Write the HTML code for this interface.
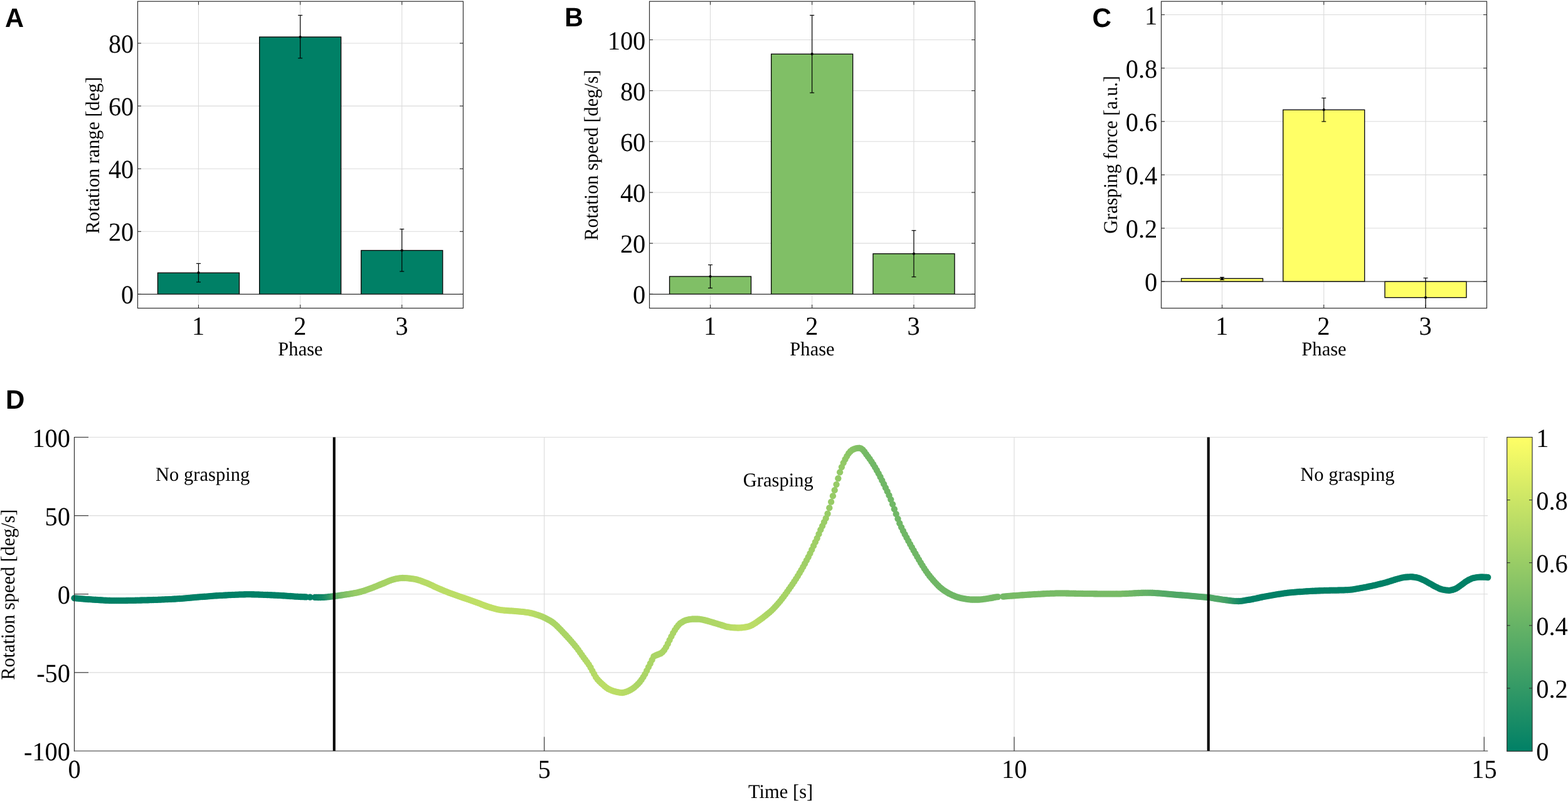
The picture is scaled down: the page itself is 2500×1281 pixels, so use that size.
<!DOCTYPE html>
<html lang="en"><head><meta charset="utf-8"><title>Figure</title>
<style>html,body{margin:0;padding:0;background:#fff;overflow:hidden}svg{display:block}text{fill:#000;text-rendering:geometricPrecision}</style></head><body>
<svg width="2500" height="1281" viewBox="0 0 2500 1281">
<rect width="2500" height="1281" fill="#fff"/>
<line x1="219.5" y1="369.3" x2="738.5" y2="369.3" stroke="#dbdbdb" stroke-width="1.1"/>
<line x1="219.5" y1="269.2" x2="738.5" y2="269.2" stroke="#dbdbdb" stroke-width="1.1"/>
<line x1="219.5" y1="169.1" x2="738.5" y2="169.1" stroke="#dbdbdb" stroke-width="1.1"/>
<line x1="219.5" y1="69" x2="738.5" y2="69" stroke="#dbdbdb" stroke-width="1.1"/>
<line x1="316.5" y1="2.2" x2="316.5" y2="491.6" stroke="#dbdbdb" stroke-width="1.1"/>
<line x1="478.7" y1="2.2" x2="478.7" y2="491.6" stroke="#dbdbdb" stroke-width="1.1"/>
<line x1="640.8" y1="2.2" x2="640.8" y2="491.6" stroke="#dbdbdb" stroke-width="1.1"/>
<rect x="251.5" y="435.22" width="130" height="34.18" fill="#008066" stroke="#000" stroke-width="1.3"/>
<rect x="413.7" y="58.99" width="130" height="410.41" fill="#008066" stroke="#000" stroke-width="1.3"/>
<rect x="575.8" y="399.48" width="130" height="69.92" fill="#008066" stroke="#000" stroke-width="1.3"/>
<line x1="219.5" y1="469.4" x2="738.5" y2="469.4" stroke="#2e2e2e" stroke-width="1.3"/>
<line x1="316.5" y1="420.4" x2="316.5" y2="450" stroke="#000" stroke-width="1.2"/>
<line x1="313" y1="420.4" x2="320" y2="420.4" stroke="#000" stroke-width="1.2"/>
<line x1="313" y1="450" x2="320" y2="450" stroke="#000" stroke-width="1.2"/>
<circle cx="316.5" cy="435.22" r="2.1" fill="#000"/>
<line x1="478.7" y1="24.4" x2="478.7" y2="92.8" stroke="#000" stroke-width="1.2"/>
<line x1="475.2" y1="24.4" x2="482.2" y2="24.4" stroke="#000" stroke-width="1.2"/>
<line x1="475.2" y1="92.8" x2="482.2" y2="92.8" stroke="#000" stroke-width="1.2"/>
<circle cx="478.7" cy="58.99" r="2.1" fill="#000"/>
<line x1="640.8" y1="365.5" x2="640.8" y2="433" stroke="#000" stroke-width="1.2"/>
<line x1="637.3" y1="365.5" x2="644.3" y2="365.5" stroke="#000" stroke-width="1.2"/>
<line x1="637.3" y1="433" x2="644.3" y2="433" stroke="#000" stroke-width="1.2"/>
<circle cx="640.8" cy="399.48" r="2.1" fill="#000"/>
<rect x="219.5" y="2.2" width="519" height="489.4" fill="none" stroke="#2e2e2e" stroke-width="1.2"/>
<line x1="219.5" y1="469.4" x2="225" y2="469.4" stroke="#2e2e2e" stroke-width="1.1"/>
<line x1="733" y1="469.4" x2="738.5" y2="469.4" stroke="#2e2e2e" stroke-width="1.1"/>
<text transform="translate(213.3 484.4) scale(0.97 1)" font-family="'Liberation Serif','Times New Roman',serif" font-size="41.67" text-anchor="end">0</text>
<line x1="219.5" y1="369.3" x2="225" y2="369.3" stroke="#2e2e2e" stroke-width="1.1"/>
<line x1="733" y1="369.3" x2="738.5" y2="369.3" stroke="#2e2e2e" stroke-width="1.1"/>
<text transform="translate(213.3 384.3) scale(0.97 1)" font-family="'Liberation Serif','Times New Roman',serif" font-size="41.67" text-anchor="end">20</text>
<line x1="219.5" y1="269.2" x2="225" y2="269.2" stroke="#2e2e2e" stroke-width="1.1"/>
<line x1="733" y1="269.2" x2="738.5" y2="269.2" stroke="#2e2e2e" stroke-width="1.1"/>
<text transform="translate(213.3 284.2) scale(0.97 1)" font-family="'Liberation Serif','Times New Roman',serif" font-size="41.67" text-anchor="end">40</text>
<line x1="219.5" y1="169.1" x2="225" y2="169.1" stroke="#2e2e2e" stroke-width="1.1"/>
<line x1="733" y1="169.1" x2="738.5" y2="169.1" stroke="#2e2e2e" stroke-width="1.1"/>
<text transform="translate(213.3 184.1) scale(0.97 1)" font-family="'Liberation Serif','Times New Roman',serif" font-size="41.67" text-anchor="end">60</text>
<line x1="219.5" y1="69" x2="225" y2="69" stroke="#2e2e2e" stroke-width="1.1"/>
<line x1="733" y1="69" x2="738.5" y2="69" stroke="#2e2e2e" stroke-width="1.1"/>
<text transform="translate(213.3 84) scale(0.97 1)" font-family="'Liberation Serif','Times New Roman',serif" font-size="41.67" text-anchor="end">80</text>
<line x1="316.5" y1="491.6" x2="316.5" y2="486.1" stroke="#2e2e2e" stroke-width="1.1"/>
<line x1="316.5" y1="2.2" x2="316.5" y2="7.7" stroke="#2e2e2e" stroke-width="1.1"/>
<text transform="translate(316.2 534) scale(0.97 1)" font-family="'Liberation Serif','Times New Roman',serif" font-size="41.67" text-anchor="middle">1</text>
<line x1="478.7" y1="491.6" x2="478.7" y2="486.1" stroke="#2e2e2e" stroke-width="1.1"/>
<line x1="478.7" y1="2.2" x2="478.7" y2="7.7" stroke="#2e2e2e" stroke-width="1.1"/>
<text transform="translate(478.4 534) scale(0.97 1)" font-family="'Liberation Serif','Times New Roman',serif" font-size="41.67" text-anchor="middle">2</text>
<line x1="640.8" y1="491.6" x2="640.8" y2="486.1" stroke="#2e2e2e" stroke-width="1.1"/>
<line x1="640.8" y1="2.2" x2="640.8" y2="7.7" stroke="#2e2e2e" stroke-width="1.1"/>
<text transform="translate(640.5 534) scale(0.97 1)" font-family="'Liberation Serif','Times New Roman',serif" font-size="41.67" text-anchor="middle">3</text>
<text transform="translate(479 567) scale(0.978 1)" font-family="'Liberation Serif','Times New Roman',serif" font-size="31.25" text-anchor="middle">Phase</text>
<text transform="translate(158.2 247.9) rotate(-90) scale(0.968 1)" font-family="'Liberation Serif','Times New Roman',serif" font-size="31.25" text-anchor="middle">Rotation range [deg]</text>
<text transform="translate(7.9 42.5) scale(0.975 1)" font-family="'Liberation Sans',Arial,sans-serif" font-size="42.7" font-weight="bold">A</text>
<line x1="1035.5" y1="388.14" x2="1554.5" y2="388.14" stroke="#dbdbdb" stroke-width="1.1"/>
<line x1="1035.5" y1="306.98" x2="1554.5" y2="306.98" stroke="#dbdbdb" stroke-width="1.1"/>
<line x1="1035.5" y1="225.82" x2="1554.5" y2="225.82" stroke="#dbdbdb" stroke-width="1.1"/>
<line x1="1035.5" y1="144.66" x2="1554.5" y2="144.66" stroke="#dbdbdb" stroke-width="1.1"/>
<line x1="1035.5" y1="63.5" x2="1554.5" y2="63.5" stroke="#dbdbdb" stroke-width="1.1"/>
<line x1="1132.5" y1="2.2" x2="1132.5" y2="491.6" stroke="#dbdbdb" stroke-width="1.1"/>
<line x1="1294.7" y1="2.2" x2="1294.7" y2="491.6" stroke="#dbdbdb" stroke-width="1.1"/>
<line x1="1457" y1="2.2" x2="1457" y2="491.6" stroke="#dbdbdb" stroke-width="1.1"/>
<rect x="1067.5" y="441.02" width="130" height="28.28" fill="#80bf66" stroke="#000" stroke-width="1.3"/>
<rect x="1229.7" y="86.22" width="130" height="383.08" fill="#80bf66" stroke="#000" stroke-width="1.3"/>
<rect x="1392" y="404.78" width="130" height="64.52" fill="#80bf66" stroke="#000" stroke-width="1.3"/>
<line x1="1035.5" y1="469.3" x2="1554.5" y2="469.3" stroke="#2e2e2e" stroke-width="1.3"/>
<line x1="1132.5" y1="422.5" x2="1132.5" y2="459.5" stroke="#000" stroke-width="1.2"/>
<line x1="1129" y1="422.5" x2="1136" y2="422.5" stroke="#000" stroke-width="1.2"/>
<line x1="1129" y1="459.5" x2="1136" y2="459.5" stroke="#000" stroke-width="1.2"/>
<circle cx="1132.5" cy="441.02" r="2.1" fill="#000"/>
<line x1="1294.7" y1="24.4" x2="1294.7" y2="148" stroke="#000" stroke-width="1.2"/>
<line x1="1291.2" y1="24.4" x2="1298.2" y2="24.4" stroke="#000" stroke-width="1.2"/>
<line x1="1291.2" y1="148" x2="1298.2" y2="148" stroke="#000" stroke-width="1.2"/>
<circle cx="1294.7" cy="86.22" r="2.1" fill="#000"/>
<line x1="1457" y1="367.7" x2="1457" y2="441.7" stroke="#000" stroke-width="1.2"/>
<line x1="1453.5" y1="367.7" x2="1460.5" y2="367.7" stroke="#000" stroke-width="1.2"/>
<line x1="1453.5" y1="441.7" x2="1460.5" y2="441.7" stroke="#000" stroke-width="1.2"/>
<circle cx="1457" cy="404.78" r="2.1" fill="#000"/>
<rect x="1035.5" y="2.2" width="519" height="489.4" fill="none" stroke="#2e2e2e" stroke-width="1.2"/>
<line x1="1035.5" y1="469.3" x2="1041" y2="469.3" stroke="#2e2e2e" stroke-width="1.1"/>
<line x1="1549" y1="469.3" x2="1554.5" y2="469.3" stroke="#2e2e2e" stroke-width="1.1"/>
<text transform="translate(1029.3 484.3) scale(0.97 1)" font-family="'Liberation Serif','Times New Roman',serif" font-size="41.67" text-anchor="end">0</text>
<line x1="1035.5" y1="388.14" x2="1041" y2="388.14" stroke="#2e2e2e" stroke-width="1.1"/>
<line x1="1549" y1="388.14" x2="1554.5" y2="388.14" stroke="#2e2e2e" stroke-width="1.1"/>
<text transform="translate(1029.3 403.14) scale(0.97 1)" font-family="'Liberation Serif','Times New Roman',serif" font-size="41.67" text-anchor="end">20</text>
<line x1="1035.5" y1="306.98" x2="1041" y2="306.98" stroke="#2e2e2e" stroke-width="1.1"/>
<line x1="1549" y1="306.98" x2="1554.5" y2="306.98" stroke="#2e2e2e" stroke-width="1.1"/>
<text transform="translate(1029.3 321.98) scale(0.97 1)" font-family="'Liberation Serif','Times New Roman',serif" font-size="41.67" text-anchor="end">40</text>
<line x1="1035.5" y1="225.82" x2="1041" y2="225.82" stroke="#2e2e2e" stroke-width="1.1"/>
<line x1="1549" y1="225.82" x2="1554.5" y2="225.82" stroke="#2e2e2e" stroke-width="1.1"/>
<text transform="translate(1029.3 240.82) scale(0.97 1)" font-family="'Liberation Serif','Times New Roman',serif" font-size="41.67" text-anchor="end">60</text>
<line x1="1035.5" y1="144.66" x2="1041" y2="144.66" stroke="#2e2e2e" stroke-width="1.1"/>
<line x1="1549" y1="144.66" x2="1554.5" y2="144.66" stroke="#2e2e2e" stroke-width="1.1"/>
<text transform="translate(1029.3 159.66) scale(0.97 1)" font-family="'Liberation Serif','Times New Roman',serif" font-size="41.67" text-anchor="end">80</text>
<line x1="1035.5" y1="63.5" x2="1041" y2="63.5" stroke="#2e2e2e" stroke-width="1.1"/>
<line x1="1549" y1="63.5" x2="1554.5" y2="63.5" stroke="#2e2e2e" stroke-width="1.1"/>
<text transform="translate(1029.3 78.5) scale(0.97 1)" font-family="'Liberation Serif','Times New Roman',serif" font-size="41.67" text-anchor="end">100</text>
<line x1="1132.5" y1="491.6" x2="1132.5" y2="486.1" stroke="#2e2e2e" stroke-width="1.1"/>
<line x1="1132.5" y1="2.2" x2="1132.5" y2="7.7" stroke="#2e2e2e" stroke-width="1.1"/>
<text transform="translate(1132.2 534) scale(0.97 1)" font-family="'Liberation Serif','Times New Roman',serif" font-size="41.67" text-anchor="middle">1</text>
<line x1="1294.7" y1="491.6" x2="1294.7" y2="486.1" stroke="#2e2e2e" stroke-width="1.1"/>
<line x1="1294.7" y1="2.2" x2="1294.7" y2="7.7" stroke="#2e2e2e" stroke-width="1.1"/>
<text transform="translate(1294.4 534) scale(0.97 1)" font-family="'Liberation Serif','Times New Roman',serif" font-size="41.67" text-anchor="middle">2</text>
<line x1="1457" y1="491.6" x2="1457" y2="486.1" stroke="#2e2e2e" stroke-width="1.1"/>
<line x1="1457" y1="2.2" x2="1457" y2="7.7" stroke="#2e2e2e" stroke-width="1.1"/>
<text transform="translate(1456.7 534) scale(0.97 1)" font-family="'Liberation Serif','Times New Roman',serif" font-size="41.67" text-anchor="middle">3</text>
<text transform="translate(1295 567) scale(0.978 1)" font-family="'Liberation Serif','Times New Roman',serif" font-size="31.25" text-anchor="middle">Phase</text>
<text transform="translate(953.3 247.6) rotate(-90) scale(0.968 1)" font-family="'Liberation Serif','Times New Roman',serif" font-size="31.25" text-anchor="middle">Rotation speed [deg/s]</text>
<text transform="translate(900.2 42.4) scale(0.96 1)" font-family="'Liberation Sans',Arial,sans-serif" font-size="42.7" font-weight="bold">B</text>
<line x1="1851.5" y1="364.06" x2="2370.5" y2="364.06" stroke="#dbdbdb" stroke-width="1.1"/>
<line x1="1851.5" y1="278.92" x2="2370.5" y2="278.92" stroke="#dbdbdb" stroke-width="1.1"/>
<line x1="1851.5" y1="193.78" x2="2370.5" y2="193.78" stroke="#dbdbdb" stroke-width="1.1"/>
<line x1="1851.5" y1="108.64" x2="2370.5" y2="108.64" stroke="#dbdbdb" stroke-width="1.1"/>
<line x1="1851.5" y1="23.5" x2="2370.5" y2="23.5" stroke="#dbdbdb" stroke-width="1.1"/>
<line x1="1948.5" y1="2.2" x2="1948.5" y2="491.6" stroke="#dbdbdb" stroke-width="1.1"/>
<line x1="2110.7" y1="2.2" x2="2110.7" y2="491.6" stroke="#dbdbdb" stroke-width="1.1"/>
<line x1="2273" y1="2.2" x2="2273" y2="491.6" stroke="#dbdbdb" stroke-width="1.1"/>
<rect x="1883.5" y="444.3" width="130" height="4.9" fill="#ffff66" stroke="#000" stroke-width="1.3"/>
<rect x="2045.7" y="175.22" width="130" height="273.98" fill="#ffff66" stroke="#000" stroke-width="1.3"/>
<rect x="2208" y="449.2" width="130" height="25.5" fill="#ffff66" stroke="#000" stroke-width="1.3"/>
<line x1="1851.5" y1="449.2" x2="2370.5" y2="449.2" stroke="#2e2e2e" stroke-width="1.3"/>
<line x1="1948.5" y1="442.4" x2="1948.5" y2="446.4" stroke="#000" stroke-width="1.2"/>
<line x1="1945" y1="442.4" x2="1952" y2="442.4" stroke="#000" stroke-width="1.2"/>
<line x1="1945" y1="446.4" x2="1952" y2="446.4" stroke="#000" stroke-width="1.2"/>
<circle cx="1948.5" cy="444.3" r="2.1" fill="#000"/>
<line x1="2110.7" y1="156.4" x2="2110.7" y2="193.9" stroke="#000" stroke-width="1.2"/>
<line x1="2107.2" y1="156.4" x2="2114.2" y2="156.4" stroke="#000" stroke-width="1.2"/>
<line x1="2107.2" y1="193.9" x2="2114.2" y2="193.9" stroke="#000" stroke-width="1.2"/>
<circle cx="2110.7" cy="175.22" r="2.1" fill="#000"/>
<line x1="2273" y1="443.5" x2="2273" y2="491.6" stroke="#000" stroke-width="1.2"/>
<line x1="2269.5" y1="443.5" x2="2276.5" y2="443.5" stroke="#000" stroke-width="1.2"/>
<circle cx="2273" cy="474.7" r="2.1" fill="#000"/>
<rect x="1851.5" y="2.2" width="519" height="489.4" fill="none" stroke="#2e2e2e" stroke-width="1.2"/>
<line x1="1851.5" y1="449.2" x2="1857" y2="449.2" stroke="#2e2e2e" stroke-width="1.1"/>
<line x1="2365" y1="449.2" x2="2370.5" y2="449.2" stroke="#2e2e2e" stroke-width="1.1"/>
<text transform="translate(1845.3 464.2) scale(0.97 1)" font-family="'Liberation Serif','Times New Roman',serif" font-size="41.67" text-anchor="end">0</text>
<line x1="1851.5" y1="364.06" x2="1857" y2="364.06" stroke="#2e2e2e" stroke-width="1.1"/>
<line x1="2365" y1="364.06" x2="2370.5" y2="364.06" stroke="#2e2e2e" stroke-width="1.1"/>
<text transform="translate(1845.3 379.06) scale(0.97 1)" font-family="'Liberation Serif','Times New Roman',serif" font-size="41.67" text-anchor="end">0.2</text>
<line x1="1851.5" y1="278.92" x2="1857" y2="278.92" stroke="#2e2e2e" stroke-width="1.1"/>
<line x1="2365" y1="278.92" x2="2370.5" y2="278.92" stroke="#2e2e2e" stroke-width="1.1"/>
<text transform="translate(1845.3 293.92) scale(0.97 1)" font-family="'Liberation Serif','Times New Roman',serif" font-size="41.67" text-anchor="end">0.4</text>
<line x1="1851.5" y1="193.78" x2="1857" y2="193.78" stroke="#2e2e2e" stroke-width="1.1"/>
<line x1="2365" y1="193.78" x2="2370.5" y2="193.78" stroke="#2e2e2e" stroke-width="1.1"/>
<text transform="translate(1845.3 208.78) scale(0.97 1)" font-family="'Liberation Serif','Times New Roman',serif" font-size="41.67" text-anchor="end">0.6</text>
<line x1="1851.5" y1="108.64" x2="1857" y2="108.64" stroke="#2e2e2e" stroke-width="1.1"/>
<line x1="2365" y1="108.64" x2="2370.5" y2="108.64" stroke="#2e2e2e" stroke-width="1.1"/>
<text transform="translate(1845.3 123.64) scale(0.97 1)" font-family="'Liberation Serif','Times New Roman',serif" font-size="41.67" text-anchor="end">0.8</text>
<line x1="1851.5" y1="23.5" x2="1857" y2="23.5" stroke="#2e2e2e" stroke-width="1.1"/>
<line x1="2365" y1="23.5" x2="2370.5" y2="23.5" stroke="#2e2e2e" stroke-width="1.1"/>
<text transform="translate(1845.3 38.5) scale(0.97 1)" font-family="'Liberation Serif','Times New Roman',serif" font-size="41.67" text-anchor="end">1</text>
<line x1="1948.5" y1="491.6" x2="1948.5" y2="486.1" stroke="#2e2e2e" stroke-width="1.1"/>
<line x1="1948.5" y1="2.2" x2="1948.5" y2="7.7" stroke="#2e2e2e" stroke-width="1.1"/>
<text transform="translate(1948.2 534) scale(0.97 1)" font-family="'Liberation Serif','Times New Roman',serif" font-size="41.67" text-anchor="middle">1</text>
<line x1="2110.7" y1="491.6" x2="2110.7" y2="486.1" stroke="#2e2e2e" stroke-width="1.1"/>
<line x1="2110.7" y1="2.2" x2="2110.7" y2="7.7" stroke="#2e2e2e" stroke-width="1.1"/>
<text transform="translate(2110.4 534) scale(0.97 1)" font-family="'Liberation Serif','Times New Roman',serif" font-size="41.67" text-anchor="middle">2</text>
<line x1="2273" y1="491.6" x2="2273" y2="486.1" stroke="#2e2e2e" stroke-width="1.1"/>
<line x1="2273" y1="2.2" x2="2273" y2="7.7" stroke="#2e2e2e" stroke-width="1.1"/>
<text transform="translate(2272.7 534) scale(0.97 1)" font-family="'Liberation Serif','Times New Roman',serif" font-size="41.67" text-anchor="middle">3</text>
<text transform="translate(2111 567) scale(0.978 1)" font-family="'Liberation Serif','Times New Roman',serif" font-size="31.25" text-anchor="middle">Phase</text>
<text transform="translate(1780.6 246.8) rotate(-90) scale(0.968 1)" font-family="'Liberation Serif','Times New Roman',serif" font-size="31.25" text-anchor="middle">Grasping force [a.u.]</text>
<text transform="translate(1741.4 42.7) scale(0.99 1)" font-family="'Liberation Sans',Arial,sans-serif" font-size="42.7" font-weight="bold">C</text>
<line x1="118.5" y1="697.5" x2="2372" y2="697.5" stroke="#dbdbdb" stroke-width="1.1"/>
<line x1="118.5" y1="822.62" x2="2372" y2="822.62" stroke="#dbdbdb" stroke-width="1.1"/>
<line x1="118.5" y1="947.75" x2="2372" y2="947.75" stroke="#dbdbdb" stroke-width="1.1"/>
<line x1="118.5" y1="1072.88" x2="2372" y2="1072.88" stroke="#dbdbdb" stroke-width="1.1"/>
<line x1="867.75" y1="697.5" x2="867.75" y2="1198" stroke="#dbdbdb" stroke-width="1.1"/>
<line x1="1617" y1="697.5" x2="1617" y2="1198" stroke="#dbdbdb" stroke-width="1.1"/>
<line x1="2366.25" y1="697.5" x2="2366.25" y2="1198" stroke="#dbdbdb" stroke-width="1.1"/>
<g fill="#008066">
<circle cx="118.5" cy="954.2" r="5.15"/>
<circle cx="121.3" cy="954.45" r="5.15"/>
<circle cx="124.1" cy="954.69" r="5.15"/>
<circle cx="126.9" cy="954.93" r="5.15"/>
<circle cx="129.7" cy="955.16" r="5.15"/>
<circle cx="132.5" cy="955.39" r="5.15"/>
<circle cx="135.3" cy="955.61" r="5.15"/>
<circle cx="138.1" cy="955.81" r="5.15"/>
<circle cx="140.9" cy="956.01" r="5.15"/>
<circle cx="143.7" cy="956.21" r="5.15"/>
<circle cx="146.5" cy="956.39" r="5.15"/>
<circle cx="149.3" cy="956.56" r="5.15"/>
<circle cx="152.1" cy="956.73" r="5.15"/>
<circle cx="154.9" cy="956.9" r="5.15"/>
<circle cx="157.69" cy="957.08" r="5.15"/>
<circle cx="160.49" cy="957.26" r="5.15"/>
<circle cx="163.29" cy="957.43" r="5.15"/>
<circle cx="166.09" cy="957.6" r="5.15"/>
<circle cx="168.89" cy="957.75" r="5.15"/>
<circle cx="171.69" cy="957.89" r="5.15"/>
<circle cx="174.49" cy="958.01" r="5.15"/>
<circle cx="177.29" cy="958.1" r="5.15"/>
<circle cx="180.09" cy="958.16" r="5.15"/>
<circle cx="182.89" cy="958.2" r="5.15"/>
<circle cx="185.69" cy="958.2" r="5.15"/>
<circle cx="188.49" cy="958.19" r="5.15"/>
<circle cx="191.29" cy="958.17" r="5.15"/>
<circle cx="194.09" cy="958.14" r="5.15"/>
<circle cx="196.89" cy="958.11" r="5.15"/>
<circle cx="199.69" cy="958.07" r="5.15"/>
<circle cx="202.49" cy="958.02" r="5.15"/>
<circle cx="205.29" cy="957.97" r="5.15"/>
<circle cx="208.09" cy="957.92" r="5.15"/>
<circle cx="210.89" cy="957.86" r="5.15"/>
<circle cx="213.69" cy="957.79" r="5.15"/>
<circle cx="216.49" cy="957.73" r="5.15"/>
<circle cx="219.29" cy="957.66" r="5.15"/>
<circle cx="222.09" cy="957.59" r="5.15"/>
<circle cx="224.89" cy="957.52" r="5.15"/>
<circle cx="227.69" cy="957.46" r="5.15"/>
<circle cx="230.49" cy="957.39" r="5.15"/>
<circle cx="233.28" cy="957.32" r="5.15"/>
<circle cx="236.08" cy="957.24" r="5.15"/>
<circle cx="238.88" cy="957.16" r="5.15"/>
<circle cx="241.68" cy="957.07" r="5.15"/>
<circle cx="244.48" cy="956.98" r="5.15"/>
<circle cx="247.28" cy="956.88" r="5.15"/>
<circle cx="250.08" cy="956.78" r="5.15"/>
<circle cx="252.88" cy="956.67" r="5.15"/>
<circle cx="255.68" cy="956.56" r="5.15"/>
<circle cx="258.48" cy="956.44" r="5.15"/>
<circle cx="261.28" cy="956.32" r="5.15"/>
<circle cx="264.08" cy="956.2" r="5.15"/>
<circle cx="266.88" cy="956.07" r="5.15"/>
<circle cx="269.68" cy="955.93" r="5.15"/>
<circle cx="272.48" cy="955.79" r="5.15"/>
<circle cx="275.28" cy="955.65" r="5.15"/>
<circle cx="278.08" cy="955.5" r="5.15"/>
<circle cx="280.88" cy="955.35" r="5.15"/>
<circle cx="283.68" cy="955.18" r="5.15"/>
<circle cx="286.48" cy="955" r="5.15"/>
<circle cx="289.28" cy="954.79" r="5.15"/>
<circle cx="292.08" cy="954.58" r="5.15"/>
<circle cx="294.88" cy="954.35" r="5.15"/>
<circle cx="297.68" cy="954.11" r="5.15"/>
<circle cx="300.48" cy="953.87" r="5.15"/>
<circle cx="303.28" cy="953.62" r="5.15"/>
<circle cx="306.08" cy="953.37" r="5.15"/>
<circle cx="308.87" cy="953.13" r="5.15"/>
<circle cx="311.67" cy="952.88" r="5.15"/>
<circle cx="314.47" cy="952.64" r="5.15"/>
<circle cx="317.27" cy="952.41" r="5.15"/>
<circle cx="320.07" cy="952.19" r="5.15"/>
<circle cx="322.87" cy="951.98" r="5.15"/>
<circle cx="325.67" cy="951.75" r="5.15"/>
<circle cx="328.47" cy="951.53" r="5.15"/>
<circle cx="331.27" cy="951.3" r="5.15"/>
<circle cx="334.07" cy="951.08" r="5.15"/>
<circle cx="336.87" cy="950.87" r="5.15"/>
<circle cx="339.67" cy="950.66" r="5.15"/>
<circle cx="342.47" cy="950.46" r="5.15"/>
<circle cx="345.27" cy="950.27" r="5.15"/>
<circle cx="348.07" cy="950.11" r="5.15"/>
<circle cx="350.87" cy="949.95" r="5.15"/>
<circle cx="353.67" cy="949.81" r="5.15"/>
<circle cx="356.47" cy="949.65" r="5.15"/>
<circle cx="359.27" cy="949.5" r="5.15"/>
<circle cx="362.07" cy="949.35" r="5.15"/>
<circle cx="364.87" cy="949.2" r="5.15"/>
<circle cx="367.67" cy="949.06" r="5.15"/>
<circle cx="370.47" cy="948.92" r="5.15"/>
<circle cx="373.27" cy="948.79" r="5.15"/>
<circle cx="376.07" cy="948.67" r="5.15"/>
<circle cx="378.87" cy="948.55" r="5.15"/>
<circle cx="381.66" cy="948.46" r="5.15"/>
<circle cx="384.46" cy="948.37" r="5.15"/>
<circle cx="387.26" cy="948.3" r="5.15"/>
<circle cx="390.06" cy="948.25" r="5.15"/>
<circle cx="392.86" cy="948.21" r="5.15"/>
<circle cx="395.66" cy="948.2" r="5.15"/>
<circle cx="398.46" cy="948.21" r="5.15"/>
<circle cx="401.26" cy="948.23" r="5.15"/>
<circle cx="404.06" cy="948.27" r="5.15"/>
<circle cx="406.86" cy="948.33" r="5.15"/>
<circle cx="409.66" cy="948.4" r="5.15"/>
<circle cx="412.46" cy="948.48" r="5.15"/>
<circle cx="415.26" cy="948.57" r="5.15"/>
<circle cx="418.06" cy="948.67" r="5.15"/>
<circle cx="420.86" cy="948.78" r="5.15"/>
<circle cx="423.66" cy="948.89" r="5.15"/>
<circle cx="426.46" cy="949.01" r="5.15"/>
<circle cx="429.26" cy="949.13" r="5.15"/>
<circle cx="432.06" cy="949.26" r="5.15"/>
<circle cx="434.86" cy="949.38" r="5.15"/>
<circle cx="437.66" cy="949.5" r="5.15"/>
<circle cx="440.46" cy="949.62" r="5.15"/>
<circle cx="443.26" cy="949.75" r="5.15"/>
<circle cx="446.06" cy="949.9" r="5.15"/>
<circle cx="448.86" cy="950.06" r="5.15"/>
<circle cx="451.66" cy="950.24" r="5.15"/>
<circle cx="454.46" cy="950.42" r="5.15"/>
<circle cx="457.25" cy="950.61" r="5.15"/>
<circle cx="460.05" cy="950.8" r="5.15"/>
<circle cx="462.85" cy="950.99" r="5.15"/>
<circle cx="465.65" cy="951.18" r="5.15"/>
<circle cx="468.45" cy="951.37" r="5.15"/>
<circle cx="471.25" cy="951.54" r="5.15"/>
<circle cx="474.05" cy="951.71" r="5.15"/>
<circle cx="476.85" cy="951.85" r="5.15"/>
<circle cx="479.65" cy="951.99" r="5.15"/>
<circle cx="482.45" cy="952.11" r="5.15"/>
<circle cx="485.25" cy="952.23" r="5.15"/>
<circle cx="488.05" cy="952.36" r="5.15"/>
<circle cx="494.4" cy="952.63" r="5.15"/>
<circle cx="502.05" cy="952.89" r="5.15"/>
</g>
<g fill="#048166">
<circle cx="504.85" cy="952.95" r="5.15"/>
</g>
<g fill="#088366">
<circle cx="507.65" cy="952.99" r="5.15"/>
</g>
<g fill="#0c8566">
<circle cx="510.45" cy="953" r="5.15"/>
</g>
<g fill="#108766">
<circle cx="513.25" cy="952.93" r="5.15"/>
<circle cx="516.05" cy="952.79" r="5.15"/>
</g>
<g fill="#188b66">
<circle cx="518.85" cy="952.57" r="5.15"/>
</g>
<g fill="#208f66">
<circle cx="521.65" cy="952.3" r="5.15"/>
</g>
<g fill="#289366">
<circle cx="524.45" cy="951.99" r="5.15"/>
</g>
<g fill="#309766">
<circle cx="527.25" cy="951.67" r="5.15"/>
</g>
<g fill="#3c9d66">
<circle cx="530.05" cy="951.33" r="5.15"/>
</g>
<g fill="#4ca566">
<circle cx="532.84" cy="951.02" r="5.15"/>
</g>
<g fill="#58ab66">
<circle cx="535.64" cy="950.69" r="5.15"/>
</g>
<g fill="#60af66">
<circle cx="538.44" cy="950.33" r="5.15"/>
</g>
<g fill="#68b366">
<circle cx="541.24" cy="949.93" r="5.15"/>
</g>
<g fill="#70b766">
<circle cx="544.04" cy="949.52" r="5.15"/>
</g>
<g fill="#78bb66">
<circle cx="546.84" cy="949.09" r="5.15"/>
</g>
<g fill="#7cbd66">
<circle cx="549.64" cy="948.66" r="5.15"/>
</g>
<g fill="#80bf66">
<circle cx="552.44" cy="948.23" r="5.15"/>
</g>
<g fill="#83c166">
<circle cx="555.24" cy="947.81" r="5.15"/>
</g>
<g fill="#87c366">
<circle cx="558.04" cy="947.38" r="5.15"/>
</g>
<g fill="#8bc566">
<circle cx="560.84" cy="946.93" r="5.15"/>
</g>
<g fill="#8fc766">
<circle cx="563.64" cy="946.45" r="5.15"/>
</g>
<g fill="#93c966">
<circle cx="566.44" cy="945.93" r="5.15"/>
</g>
<g fill="#97cb66">
<circle cx="569.24" cy="945.36" r="5.15"/>
<circle cx="572.04" cy="944.72" r="5.15"/>
<circle cx="574.84" cy="943.99" r="5.15"/>
</g>
<g fill="#9bcd66">
<circle cx="577.64" cy="943.17" r="5.15"/>
<circle cx="580.44" cy="942.28" r="5.15"/>
<circle cx="583.24" cy="941.35" r="5.15"/>
</g>
<g fill="#9fcf66">
<circle cx="586.04" cy="940.39" r="5.15"/>
<circle cx="588.84" cy="939.41" r="5.15"/>
<circle cx="591.64" cy="938.41" r="5.15"/>
</g>
<g fill="#a3d166">
<circle cx="594.44" cy="937.35" r="5.15"/>
<circle cx="597.24" cy="936.23" r="5.15"/>
<circle cx="600.04" cy="935.07" r="5.15"/>
<circle cx="602.84" cy="933.9" r="5.15"/>
<circle cx="605.64" cy="932.74" r="5.15"/>
<circle cx="608.43" cy="931.61" r="5.15"/>
</g>
<g fill="#a7d366">
<circle cx="611.23" cy="930.51" r="5.15"/>
<circle cx="614.03" cy="929.35" r="5.15"/>
<circle cx="616.83" cy="928.15" r="5.15"/>
<circle cx="619.63" cy="926.96" r="5.15"/>
<circle cx="622.43" cy="925.84" r="5.15"/>
<circle cx="625.23" cy="924.85" r="5.15"/>
<circle cx="628.03" cy="924.04" r="5.15"/>
<circle cx="630.83" cy="923.44" r="5.15"/>
</g>
<g fill="#abd566">
<circle cx="633.63" cy="922.92" r="5.15"/>
<circle cx="636.43" cy="922.45" r="5.15"/>
<circle cx="639.23" cy="922.12" r="5.15"/>
<circle cx="642.03" cy="922" r="5.15"/>
<circle cx="644.83" cy="922.05" r="5.15"/>
<circle cx="647.63" cy="922.2" r="5.15"/>
</g>
<g fill="#afd766">
<circle cx="650.43" cy="922.43" r="5.15"/>
<circle cx="653.23" cy="922.73" r="5.15"/>
<circle cx="656.03" cy="923.07" r="5.15"/>
<circle cx="658.83" cy="923.44" r="5.15"/>
</g>
<g fill="#b3d966">
<circle cx="661.63" cy="923.86" r="5.15"/>
<circle cx="664.43" cy="924.49" r="5.15"/>
<circle cx="667.23" cy="925.29" r="5.15"/>
<circle cx="670.03" cy="926.22" r="5.15"/>
</g>
<g fill="#b7db66">
<circle cx="672.83" cy="927.24" r="5.15"/>
<circle cx="675.63" cy="928.32" r="5.15"/>
<circle cx="678.43" cy="929.4" r="5.15"/>
<circle cx="681.23" cy="930.47" r="5.15"/>
<circle cx="684.02" cy="931.63" r="5.15"/>
<circle cx="686.82" cy="932.89" r="5.15"/>
<circle cx="689.62" cy="934.2" r="5.15"/>
</g>
<g fill="#bbdd66">
<circle cx="692.42" cy="935.53" r="5.15"/>
<circle cx="695.22" cy="936.86" r="5.15"/>
<circle cx="698.02" cy="938.14" r="5.15"/>
<circle cx="700.82" cy="939.35" r="5.15"/>
<circle cx="703.62" cy="940.52" r="5.15"/>
<circle cx="706.42" cy="941.68" r="5.15"/>
<circle cx="709.22" cy="942.81" r="5.15"/>
<circle cx="712.02" cy="943.93" r="5.15"/>
<circle cx="714.82" cy="945.03" r="5.15"/>
<circle cx="717.62" cy="946.1" r="5.15"/>
<circle cx="720.42" cy="947.16" r="5.15"/>
<circle cx="723.22" cy="948.18" r="5.15"/>
<circle cx="726.02" cy="949.18" r="5.15"/>
<circle cx="728.82" cy="950.15" r="5.15"/>
<circle cx="731.62" cy="951.11" r="5.15"/>
<circle cx="734.42" cy="952.07" r="5.15"/>
</g>
<g fill="#bfdf66">
<circle cx="737.22" cy="953.03" r="5.15"/>
<circle cx="740.02" cy="954.01" r="5.15"/>
<circle cx="742.82" cy="954.98" r="5.15"/>
<circle cx="745.62" cy="955.95" r="5.15"/>
<circle cx="748.42" cy="956.93" r="5.15"/>
<circle cx="751.22" cy="957.9" r="5.15"/>
<circle cx="754.02" cy="958.88" r="5.15"/>
<circle cx="756.82" cy="959.86" r="5.15"/>
<circle cx="759.61" cy="960.86" r="5.15"/>
<circle cx="762.41" cy="961.89" r="5.15"/>
<circle cx="765.21" cy="962.98" r="5.15"/>
<circle cx="768.01" cy="964.08" r="5.15"/>
<circle cx="770.81" cy="965.18" r="5.15"/>
<circle cx="773.61" cy="966.24" r="5.15"/>
<circle cx="776.41" cy="967.25" r="5.15"/>
<circle cx="779.21" cy="968.16" r="5.15"/>
<circle cx="782.01" cy="969" r="5.15"/>
<circle cx="784.81" cy="969.83" r="5.15"/>
<circle cx="787.61" cy="970.64" r="5.15"/>
<circle cx="790.41" cy="971.41" r="5.15"/>
<circle cx="793.21" cy="972.1" r="5.15"/>
<circle cx="796.01" cy="972.69" r="5.15"/>
<circle cx="798.81" cy="973.15" r="5.15"/>
<circle cx="801.61" cy="973.47" r="5.15"/>
<circle cx="804.41" cy="973.73" r="5.15"/>
<circle cx="807.21" cy="973.94" r="5.15"/>
</g>
<g fill="#bbdd66">
<circle cx="810.01" cy="974.12" r="5.15"/>
<circle cx="812.81" cy="974.29" r="5.15"/>
<circle cx="815.61" cy="974.47" r="5.15"/>
<circle cx="818.41" cy="974.67" r="5.15"/>
<circle cx="821.21" cy="974.9" r="5.15"/>
<circle cx="824.01" cy="975.14" r="5.15"/>
<circle cx="826.81" cy="975.37" r="5.15"/>
<circle cx="829.61" cy="975.62" r="5.15"/>
<circle cx="832.4" cy="975.89" r="5.15"/>
<circle cx="835.2" cy="976.18" r="5.15"/>
<circle cx="838" cy="976.53" r="5.15"/>
<circle cx="840.8" cy="976.92" r="5.15"/>
<circle cx="843.6" cy="977.41" r="5.15"/>
<circle cx="846.4" cy="978.01" r="5.15"/>
<circle cx="849.2" cy="978.7" r="5.15"/>
</g>
<g fill="#b7db66">
<circle cx="852" cy="979.46" r="5.15"/>
<circle cx="854.8" cy="980.3" r="5.15"/>
<circle cx="857.6" cy="981.19" r="5.15"/>
</g>
<g fill="#b3d966">
<circle cx="860.4" cy="982.14" r="5.15"/>
<circle cx="863.2" cy="983.18" r="5.15"/>
</g>
<g fill="#afd766">
<circle cx="866" cy="984.34" r="5.15"/>
<circle cx="868.8" cy="985.63" r="5.15"/>
</g>
<g fill="#abd566">
<circle cx="871.6" cy="987.04" r="5.15"/>
<circle cx="874.4" cy="988.57" r="5.15"/>
<circle cx="877.2" cy="990.22" r="5.15"/>
<circle cx="880" cy="992" r="5.15"/>
<circle cx="882.8" cy="994.02" r="5.15"/>
<circle cx="885.6" cy="996.37" r="5.15"/>
<circle cx="888.4" cy="998.99" r="5.15"/>
<circle cx="891.2" cy="1001.78" r="5.15"/>
<circle cx="894" cy="1004.7" r="5.15"/>
<circle cx="896.8" cy="1007.65" r="5.15"/>
<circle cx="899.6" cy="1010.58" r="5.15"/>
<circle cx="902.4" cy="1013.51" r="5.15"/>
<circle cx="905.2" cy="1016.57" r="5.15"/>
<circle cx="907.99" cy="1019.71" r="5.15"/>
<circle cx="910.79" cy="1022.91" r="5.15"/>
<circle cx="913.59" cy="1026.16" r="5.15"/>
<circle cx="916.39" cy="1029.49" r="5.15"/>
<circle cx="919.19" cy="1032.97" r="5.15"/>
</g>
<g fill="#afd766">
<circle cx="921.99" cy="1036.65" r="5.15"/>
<circle cx="924.79" cy="1040.57" r="5.15"/>
<circle cx="927.59" cy="1044.58" r="5.15"/>
<circle cx="930.39" cy="1048.55" r="5.15"/>
<circle cx="933.19" cy="1052.33" r="5.15"/>
</g>
<g fill="#b3d966">
<circle cx="935.99" cy="1056.09" r="5.15"/>
<circle cx="938.79" cy="1060.12" r="5.15"/>
<circle cx="941.59" cy="1064.75" r="5.15"/>
<circle cx="944.39" cy="1070.05" r="5.15"/>
<circle cx="947.19" cy="1075.12" r="5.15"/>
</g>
<g fill="#b7db66">
<circle cx="949.99" cy="1080.04" r="5.15"/>
<circle cx="952.79" cy="1083.97" r="5.15"/>
<circle cx="955.59" cy="1086.97" r="5.15"/>
<circle cx="958.39" cy="1089.57" r="5.15"/>
</g>
<g fill="#bbdd66">
<circle cx="961.19" cy="1092.07" r="5.15"/>
<circle cx="963.99" cy="1094.58" r="5.15"/>
<circle cx="966.79" cy="1096.89" r="5.15"/>
<circle cx="969.59" cy="1098.77" r="5.15"/>
<circle cx="972.39" cy="1100.21" r="5.15"/>
</g>
<g fill="#bfdf66">
<circle cx="975.19" cy="1101.44" r="5.15"/>
</g>
<g fill="#bbdd66">
<circle cx="977.99" cy="1102.45" r="5.15"/>
<circle cx="980.79" cy="1103.19" r="5.15"/>
<circle cx="983.58" cy="1103.85" r="5.15"/>
<circle cx="986.38" cy="1104.43" r="5.15"/>
<circle cx="989.18" cy="1104.84" r="5.15"/>
<circle cx="991.98" cy="1105" r="5.15"/>
</g>
<g fill="#b7db66">
<circle cx="994.78" cy="1104.66" r="5.15"/>
<circle cx="997.58" cy="1103.84" r="5.15"/>
<circle cx="1000.38" cy="1102.87" r="5.15"/>
<circle cx="1003.18" cy="1101.66" r="5.15"/>
</g>
<g fill="#b3d966">
<circle cx="1005.98" cy="1100.12" r="5.15"/>
<circle cx="1008.78" cy="1098.34" r="5.15"/>
</g>
<g fill="#afd766">
<circle cx="1011.58" cy="1096.33" r="5.15"/>
<circle cx="1014.38" cy="1093.93" r="5.15"/>
</g>
<g fill="#abd566">
<circle cx="1017.18" cy="1091.15" r="5.15"/>
<circle cx="1019.98" cy="1088.02" r="5.15"/>
<circle cx="1022.78" cy="1084.36" r="5.15"/>
<circle cx="1025.58" cy="1080.06" r="5.15"/>
<circle cx="1028.38" cy="1075.33" r="5.15"/>
<circle cx="1031.18" cy="1069.84" r="5.15"/>
<circle cx="1033.98" cy="1064.04" r="5.15"/>
<circle cx="1036.78" cy="1058.5" r="5.15"/>
<circle cx="1039.58" cy="1052.66" r="5.15"/>
<circle cx="1042.38" cy="1047.19" r="5.15"/>
<circle cx="1045.18" cy="1045.61" r="5.15"/>
<circle cx="1047.98" cy="1044.51" r="5.15"/>
<circle cx="1050.78" cy="1043.44" r="5.15"/>
<circle cx="1053.58" cy="1042.24" r="5.15"/>
<circle cx="1056.38" cy="1040.04" r="5.15"/>
<circle cx="1059.17" cy="1036.78" r="5.15"/>
<circle cx="1061.97" cy="1032.28" r="5.15"/>
<circle cx="1064.77" cy="1027" r="5.15"/>
<circle cx="1067.57" cy="1021.03" r="5.15"/>
<circle cx="1070.37" cy="1015.29" r="5.15"/>
<circle cx="1073.17" cy="1009.98" r="5.15"/>
<circle cx="1075.97" cy="1005.06" r="5.15"/>
<circle cx="1078.77" cy="1000.94" r="5.15"/>
<circle cx="1081.57" cy="997.33" r="5.15"/>
<circle cx="1084.37" cy="994.48" r="5.15"/>
<circle cx="1087.17" cy="992.53" r="5.15"/>
<circle cx="1089.97" cy="990.91" r="5.15"/>
<circle cx="1092.77" cy="989.67" r="5.15"/>
<circle cx="1095.57" cy="988.87" r="5.15"/>
<circle cx="1098.37" cy="988.26" r="5.15"/>
<circle cx="1101.17" cy="987.78" r="5.15"/>
<circle cx="1103.97" cy="987.52" r="5.15"/>
<circle cx="1106.77" cy="987.5" r="5.15"/>
<circle cx="1109.57" cy="987.5" r="5.15"/>
<circle cx="1112.37" cy="987.5" r="5.15"/>
<circle cx="1115.17" cy="987.72" r="5.15"/>
<circle cx="1117.97" cy="988.15" r="5.15"/>
<circle cx="1120.77" cy="988.63" r="5.15"/>
<circle cx="1123.57" cy="989.25" r="5.15"/>
</g>
<g fill="#afd766">
<circle cx="1126.37" cy="989.99" r="5.15"/>
<circle cx="1129.17" cy="990.77" r="5.15"/>
<circle cx="1131.97" cy="991.55" r="5.15"/>
<circle cx="1134.76" cy="992.39" r="5.15"/>
<circle cx="1137.56" cy="993.26" r="5.15"/>
<circle cx="1140.36" cy="994.11" r="5.15"/>
<circle cx="1143.16" cy="994.95" r="5.15"/>
<circle cx="1145.96" cy="995.79" r="5.15"/>
<circle cx="1148.76" cy="996.63" r="5.15"/>
<circle cx="1151.56" cy="997.5" r="5.15"/>
</g>
<g fill="#b3d966">
<circle cx="1154.36" cy="998.45" r="5.15"/>
<circle cx="1157.16" cy="999.34" r="5.15"/>
<circle cx="1159.96" cy="999.99" r="5.15"/>
</g>
<g fill="#b7db66">
<circle cx="1162.76" cy="1000.44" r="5.15"/>
<circle cx="1165.56" cy="1000.81" r="5.15"/>
<circle cx="1168.36" cy="1001.09" r="5.15"/>
</g>
<g fill="#bbdd66">
<circle cx="1171.16" cy="1001.26" r="5.15"/>
<circle cx="1173.96" cy="1001.4" r="5.15"/>
<circle cx="1176.76" cy="1001.49" r="5.15"/>
</g>
<g fill="#bfdf66">
<circle cx="1179.56" cy="1001.46" r="5.15"/>
<circle cx="1182.36" cy="1001.25" r="5.15"/>
<circle cx="1185.16" cy="1000.91" r="5.15"/>
<circle cx="1187.96" cy="1000.51" r="5.15"/>
<circle cx="1190.76" cy="999.99" r="5.15"/>
<circle cx="1193.56" cy="999.28" r="5.15"/>
</g>
<g fill="#bbdd66">
<circle cx="1196.36" cy="998.37" r="5.15"/>
<circle cx="1199.16" cy="997.02" r="5.15"/>
<circle cx="1201.96" cy="995.3" r="5.15"/>
<circle cx="1204.76" cy="993.53" r="5.15"/>
<circle cx="1207.56" cy="991.66" r="5.15"/>
</g>
<g fill="#b7db66">
<circle cx="1210.35" cy="989.68" r="5.15"/>
<circle cx="1213.15" cy="987.67" r="5.15"/>
</g>
<g fill="#b3d966">
<circle cx="1215.95" cy="985.61" r="5.15"/>
</g>
<g fill="#afd766">
<circle cx="1218.75" cy="983.48" r="5.15"/>
<circle cx="1221.55" cy="981.26" r="5.15"/>
</g>
<g fill="#abd566">
<circle cx="1224.35" cy="978.97" r="5.15"/>
<circle cx="1227.15" cy="976.58" r="5.15"/>
<circle cx="1229.95" cy="974.05" r="5.15"/>
<circle cx="1232.75" cy="971.32" r="5.15"/>
</g>
<g fill="#a7d366">
<circle cx="1235.55" cy="968.42" r="5.15"/>
<circle cx="1238.35" cy="965.36" r="5.15"/>
<circle cx="1241.15" cy="962.17" r="5.15"/>
<circle cx="1243.95" cy="958.79" r="5.15"/>
<circle cx="1246.75" cy="955.25" r="5.15"/>
<circle cx="1249.55" cy="951.59" r="5.15"/>
<circle cx="1252.35" cy="947.84" r="5.15"/>
<circle cx="1255.15" cy="943.95" r="5.15"/>
</g>
<g fill="#a3d166">
<circle cx="1257.95" cy="939.96" r="5.15"/>
<circle cx="1260.75" cy="935.92" r="5.15"/>
<circle cx="1263.55" cy="931.83" r="5.15"/>
<circle cx="1266.35" cy="927.66" r="5.15"/>
<circle cx="1269.15" cy="923.35" r="5.15"/>
<circle cx="1271.95" cy="918.85" r="5.15"/>
<circle cx="1274.75" cy="914.18" r="5.15"/>
<circle cx="1277.55" cy="909.35" r="5.15"/>
<circle cx="1280.35" cy="904.38" r="5.15"/>
</g>
<g fill="#9fcf66">
<circle cx="1283.14" cy="899.26" r="5.15"/>
<circle cx="1285.94" cy="893.98" r="5.15"/>
<circle cx="1288.74" cy="888.52" r="5.15"/>
<circle cx="1291.54" cy="882.81" r="5.15"/>
<circle cx="1294.34" cy="876.78" r="5.15"/>
<circle cx="1297.14" cy="870.69" r="5.15"/>
<circle cx="1299.94" cy="864.72" r="5.15"/>
<circle cx="1302.74" cy="858.59" r="5.15"/>
</g>
<g fill="#9bcd66">
<circle cx="1305.54" cy="851.91" r="5.15"/>
<circle cx="1308.34" cy="845.22" r="5.15"/>
<circle cx="1311.14" cy="839.07" r="5.15"/>
<circle cx="1313.94" cy="832.94" r="5.15"/>
<circle cx="1316.74" cy="826.85" r="5.15"/>
</g>
<g fill="#97cb66">
<circle cx="1319.54" cy="819.51" r="5.15"/>
<circle cx="1322.34" cy="810.18" r="5.15"/>
<circle cx="1325.14" cy="800.69" r="5.15"/>
<circle cx="1327.94" cy="791.23" r="5.15"/>
<circle cx="1330.74" cy="781.94" r="5.15"/>
<circle cx="1333.54" cy="772.86" r="5.15"/>
</g>
<g fill="#93c966">
<circle cx="1336.34" cy="763.25" r="5.15"/>
<circle cx="1339.14" cy="753.27" r="5.15"/>
<circle cx="1341.94" cy="745.12" r="5.15"/>
<circle cx="1344.74" cy="738.35" r="5.15"/>
</g>
<g fill="#8fc766">
<circle cx="1347.54" cy="732.67" r="5.15"/>
<circle cx="1350.34" cy="727.61" r="5.15"/>
</g>
<g fill="#8bc566">
<circle cx="1353.14" cy="723.07" r="5.15"/>
<circle cx="1355.94" cy="719.99" r="5.15"/>
<circle cx="1358.73" cy="717.72" r="5.15"/>
</g>
<g fill="#87c366">
<circle cx="1361.53" cy="716.3" r="5.15"/>
<circle cx="1364.33" cy="715.32" r="5.15"/>
</g>
<g fill="#83c166">
<circle cx="1367.13" cy="714.87" r="5.15"/>
</g>
<g fill="#80bf66">
<circle cx="1369.93" cy="714.7" r="5.15"/>
<circle cx="1372.73" cy="715.39" r="5.15"/>
</g>
<g fill="#7cbd66">
<circle cx="1375.53" cy="717.3" r="5.15"/>
</g>
<g fill="#78bb66">
<circle cx="1378.33" cy="720.69" r="5.15"/>
</g>
<g fill="#74b966">
<circle cx="1381.13" cy="724.53" r="5.15"/>
<circle cx="1383.93" cy="728.32" r="5.15"/>
<circle cx="1386.73" cy="732.19" r="5.15"/>
<circle cx="1389.53" cy="736.28" r="5.15"/>
</g>
<g fill="#70b766">
<circle cx="1392.33" cy="740.68" r="5.15"/>
<circle cx="1395.13" cy="745.34" r="5.15"/>
<circle cx="1397.93" cy="750.25" r="5.15"/>
<circle cx="1400.73" cy="755.35" r="5.15"/>
<circle cx="1403.53" cy="760.74" r="5.15"/>
<circle cx="1406.33" cy="766.38" r="5.15"/>
<circle cx="1409.13" cy="772.18" r="5.15"/>
<circle cx="1411.93" cy="778.03" r="5.15"/>
<circle cx="1414.73" cy="783.96" r="5.15"/>
<circle cx="1417.53" cy="790.15" r="5.15"/>
<circle cx="1420.33" cy="796.81" r="5.15"/>
<circle cx="1423.13" cy="804.29" r="5.15"/>
<circle cx="1425.93" cy="812.23" r="5.15"/>
<circle cx="1428.73" cy="819.98" r="5.15"/>
<circle cx="1431.53" cy="827.66" r="5.15"/>
<circle cx="1434.32" cy="834.77" r="5.15"/>
<circle cx="1437.12" cy="841.03" r="5.15"/>
<circle cx="1439.92" cy="846.85" r="5.15"/>
<circle cx="1442.72" cy="852.4" r="5.15"/>
<circle cx="1445.52" cy="857.71" r="5.15"/>
<circle cx="1448.32" cy="862.91" r="5.15"/>
<circle cx="1451.12" cy="868.07" r="5.15"/>
<circle cx="1453.92" cy="873.18" r="5.15"/>
<circle cx="1456.72" cy="878.21" r="5.15"/>
<circle cx="1459.52" cy="883.16" r="5.15"/>
<circle cx="1462.32" cy="888.06" r="5.15"/>
<circle cx="1465.12" cy="892.9" r="5.15"/>
<circle cx="1467.92" cy="897.62" r="5.15"/>
<circle cx="1470.72" cy="902.15" r="5.15"/>
<circle cx="1473.52" cy="906.55" r="5.15"/>
<circle cx="1476.32" cy="910.8" r="5.15"/>
<circle cx="1479.12" cy="914.81" r="5.15"/>
<circle cx="1481.92" cy="918.5" r="5.15"/>
<circle cx="1484.72" cy="921.97" r="5.15"/>
<circle cx="1487.52" cy="925.24" r="5.15"/>
<circle cx="1490.32" cy="928.35" r="5.15"/>
<circle cx="1493.12" cy="931.37" r="5.15"/>
<circle cx="1495.92" cy="934.26" r="5.15"/>
<circle cx="1498.72" cy="936.9" r="5.15"/>
<circle cx="1501.52" cy="939.22" r="5.15"/>
<circle cx="1504.32" cy="941.32" r="5.15"/>
<circle cx="1507.12" cy="943.22" r="5.15"/>
<circle cx="1509.91" cy="944.95" r="5.15"/>
<circle cx="1512.71" cy="946.52" r="5.15"/>
<circle cx="1515.51" cy="947.97" r="5.15"/>
<circle cx="1518.31" cy="949.28" r="5.15"/>
<circle cx="1521.11" cy="950.45" r="5.15"/>
<circle cx="1523.91" cy="951.55" r="5.15"/>
<circle cx="1526.71" cy="952.54" r="5.15"/>
<circle cx="1529.51" cy="953.37" r="5.15"/>
<circle cx="1532.31" cy="954.06" r="5.15"/>
<circle cx="1535.11" cy="954.67" r="5.15"/>
<circle cx="1537.91" cy="955.19" r="5.15"/>
<circle cx="1540.71" cy="955.6" r="5.15"/>
<circle cx="1543.51" cy="955.98" r="5.15"/>
</g>
<g fill="#74b966">
<circle cx="1546.31" cy="956.31" r="5.15"/>
<circle cx="1549.11" cy="956.49" r="5.15"/>
<circle cx="1551.91" cy="956.5" r="5.15"/>
<circle cx="1554.71" cy="956.5" r="5.15"/>
<circle cx="1557.51" cy="956.5" r="5.15"/>
<circle cx="1560.31" cy="956.5" r="5.15"/>
<circle cx="1563.11" cy="956.35" r="5.15"/>
<circle cx="1565.91" cy="956.04" r="5.15"/>
<circle cx="1568.71" cy="955.66" r="5.15"/>
<circle cx="1571.51" cy="955.31" r="5.15"/>
<circle cx="1574.31" cy="954.91" r="5.15"/>
<circle cx="1577.11" cy="954.47" r="5.15"/>
<circle cx="1579.91" cy="954.02" r="5.15"/>
<circle cx="1582.71" cy="953.49" r="5.15"/>
<circle cx="1585.5" cy="952.92" r="5.15"/>
<circle cx="1588.3" cy="952.42" r="5.15"/>
<circle cx="1591.1" cy="952.1" r="5.15"/>
<circle cx="1599.5" cy="951.54" r="5.15"/>
<circle cx="1602.3" cy="951.33" r="5.15"/>
<circle cx="1605.1" cy="951.12" r="5.15"/>
<circle cx="1607.9" cy="950.91" r="5.15"/>
</g>
<g fill="#78bb66">
<circle cx="1610.7" cy="950.69" r="5.15"/>
<circle cx="1613.5" cy="950.48" r="5.15"/>
<circle cx="1616.3" cy="950.27" r="5.15"/>
<circle cx="1619.1" cy="950.06" r="5.15"/>
<circle cx="1621.9" cy="949.86" r="5.15"/>
<circle cx="1624.7" cy="949.66" r="5.15"/>
<circle cx="1627.5" cy="949.46" r="5.15"/>
<circle cx="1630.3" cy="949.26" r="5.15"/>
<circle cx="1633.1" cy="949.06" r="5.15"/>
<circle cx="1635.9" cy="948.86" r="5.15"/>
<circle cx="1638.7" cy="948.67" r="5.15"/>
<circle cx="1641.5" cy="948.49" r="5.15"/>
<circle cx="1644.3" cy="948.32" r="5.15"/>
<circle cx="1647.1" cy="948.15" r="5.15"/>
<circle cx="1649.9" cy="948.01" r="5.15"/>
<circle cx="1652.7" cy="947.86" r="5.15"/>
<circle cx="1655.5" cy="947.71" r="5.15"/>
<circle cx="1658.3" cy="947.56" r="5.15"/>
<circle cx="1661.09" cy="947.41" r="5.15"/>
<circle cx="1663.89" cy="947.26" r="5.15"/>
<circle cx="1666.69" cy="947.11" r="5.15"/>
<circle cx="1669.49" cy="946.97" r="5.15"/>
<circle cx="1672.29" cy="946.84" r="5.15"/>
<circle cx="1675.09" cy="946.72" r="5.15"/>
<circle cx="1677.89" cy="946.62" r="5.15"/>
<circle cx="1680.69" cy="946.54" r="5.15"/>
<circle cx="1683.49" cy="946.47" r="5.15"/>
<circle cx="1686.29" cy="946.42" r="5.15"/>
<circle cx="1689.09" cy="946.4" r="5.15"/>
<circle cx="1691.89" cy="946.4" r="5.15"/>
<circle cx="1694.69" cy="946.42" r="5.15"/>
<circle cx="1697.49" cy="946.44" r="5.15"/>
<circle cx="1700.29" cy="946.48" r="5.15"/>
<circle cx="1703.09" cy="946.52" r="5.15"/>
<circle cx="1705.89" cy="946.57" r="5.15"/>
<circle cx="1708.69" cy="946.62" r="5.15"/>
<circle cx="1711.49" cy="946.68" r="5.15"/>
<circle cx="1714.29" cy="946.74" r="5.15"/>
<circle cx="1717.09" cy="946.8" r="5.15"/>
<circle cx="1719.89" cy="946.86" r="5.15"/>
<circle cx="1722.69" cy="946.92" r="5.15"/>
<circle cx="1725.49" cy="946.98" r="5.15"/>
<circle cx="1728.29" cy="947.04" r="5.15"/>
<circle cx="1731.09" cy="947.09" r="5.15"/>
<circle cx="1733.88" cy="947.13" r="5.15"/>
<circle cx="1736.68" cy="947.17" r="5.15"/>
<circle cx="1739.48" cy="947.2" r="5.15"/>
<circle cx="1742.28" cy="947.22" r="5.15"/>
<circle cx="1745.08" cy="947.24" r="5.15"/>
<circle cx="1747.88" cy="947.26" r="5.15"/>
<circle cx="1750.68" cy="947.28" r="5.15"/>
<circle cx="1753.48" cy="947.3" r="5.15"/>
<circle cx="1756.28" cy="947.32" r="5.15"/>
<circle cx="1759.08" cy="947.33" r="5.15"/>
<circle cx="1761.88" cy="947.35" r="5.15"/>
<circle cx="1764.68" cy="947.36" r="5.15"/>
<circle cx="1767.48" cy="947.37" r="5.15"/>
<circle cx="1770.28" cy="947.38" r="5.15"/>
<circle cx="1773.08" cy="947.39" r="5.15"/>
<circle cx="1775.88" cy="947.4" r="5.15"/>
<circle cx="1778.68" cy="947.4" r="5.15"/>
<circle cx="1781.48" cy="947.4" r="5.15"/>
<circle cx="1784.28" cy="947.36" r="5.15"/>
<circle cx="1787.08" cy="947.3" r="5.15"/>
<circle cx="1789.88" cy="947.22" r="5.15"/>
<circle cx="1792.68" cy="947.11" r="5.15"/>
</g>
<g fill="#74b966">
<circle cx="1795.48" cy="946.99" r="5.15"/>
<circle cx="1798.28" cy="946.85" r="5.15"/>
<circle cx="1801.08" cy="946.71" r="5.15"/>
</g>
<g fill="#70b766">
<circle cx="1803.88" cy="946.56" r="5.15"/>
<circle cx="1806.68" cy="946.41" r="5.15"/>
<circle cx="1809.47" cy="946.26" r="5.15"/>
</g>
<g fill="#6cb566">
<circle cx="1812.27" cy="946.12" r="5.15"/>
<circle cx="1815.07" cy="945.99" r="5.15"/>
<circle cx="1817.87" cy="945.87" r="5.15"/>
</g>
<g fill="#68b366">
<circle cx="1820.67" cy="945.76" r="5.15"/>
<circle cx="1823.47" cy="945.68" r="5.15"/>
</g>
<g fill="#64b166">
<circle cx="1826.27" cy="945.63" r="5.15"/>
<circle cx="1829.07" cy="945.6" r="5.15"/>
<circle cx="1831.87" cy="945.61" r="5.15"/>
</g>
<g fill="#60af66">
<circle cx="1834.67" cy="945.67" r="5.15"/>
<circle cx="1837.47" cy="945.76" r="5.15"/>
<circle cx="1840.27" cy="945.9" r="5.15"/>
</g>
<g fill="#5cad66">
<circle cx="1843.07" cy="946.06" r="5.15"/>
<circle cx="1845.87" cy="946.26" r="5.15"/>
<circle cx="1848.67" cy="946.47" r="5.15"/>
</g>
<g fill="#58ab66">
<circle cx="1851.47" cy="946.7" r="5.15"/>
<circle cx="1854.27" cy="946.95" r="5.15"/>
</g>
<g fill="#54a966">
<circle cx="1857.07" cy="947.2" r="5.15"/>
<circle cx="1859.87" cy="947.45" r="5.15"/>
<circle cx="1862.67" cy="947.7" r="5.15"/>
<circle cx="1865.47" cy="947.94" r="5.15"/>
<circle cx="1868.27" cy="948.17" r="5.15"/>
<circle cx="1871.07" cy="948.38" r="5.15"/>
</g>
<g fill="#50a766">
<circle cx="1873.87" cy="948.59" r="5.15"/>
<circle cx="1876.67" cy="948.81" r="5.15"/>
<circle cx="1879.47" cy="949.03" r="5.15"/>
<circle cx="1882.27" cy="949.25" r="5.15"/>
<circle cx="1885.06" cy="949.48" r="5.15"/>
<circle cx="1887.86" cy="949.71" r="5.15"/>
<circle cx="1890.66" cy="949.95" r="5.15"/>
<circle cx="1893.46" cy="950.18" r="5.15"/>
<circle cx="1896.26" cy="950.42" r="5.15"/>
<circle cx="1899.06" cy="950.66" r="5.15"/>
<circle cx="1901.86" cy="950.9" r="5.15"/>
<circle cx="1904.66" cy="951.14" r="5.15"/>
<circle cx="1907.46" cy="951.38" r="5.15"/>
<circle cx="1910.26" cy="951.62" r="5.15"/>
<circle cx="1913.06" cy="951.85" r="5.15"/>
<circle cx="1915.86" cy="952.08" r="5.15"/>
<circle cx="1918.66" cy="952.31" r="5.15"/>
<circle cx="1921.46" cy="952.55" r="5.15"/>
<circle cx="1924.26" cy="952.81" r="5.15"/>
<circle cx="1927.06" cy="953.11" r="5.15"/>
<circle cx="1929.86" cy="953.45" r="5.15"/>
<circle cx="1932.66" cy="953.86" r="5.15"/>
<circle cx="1935.46" cy="954.31" r="5.15"/>
<circle cx="1938.26" cy="954.78" r="5.15"/>
<circle cx="1941.06" cy="955.25" r="5.15"/>
<circle cx="1943.86" cy="955.72" r="5.15"/>
</g>
<g fill="#4ca566">
<circle cx="1946.66" cy="956.15" r="5.15"/>
<circle cx="1949.46" cy="956.53" r="5.15"/>
</g>
<g fill="#48a366">
<circle cx="1952.26" cy="956.88" r="5.15"/>
</g>
<g fill="#44a166">
<circle cx="1955.06" cy="957.26" r="5.15"/>
</g>
<g fill="#409f66">
<circle cx="1957.86" cy="957.63" r="5.15"/>
</g>
<g fill="#3c9d66">
<circle cx="1960.65" cy="958" r="5.15"/>
</g>
<g fill="#349966">
<circle cx="1963.45" cy="958.33" r="5.15"/>
</g>
<g fill="#309766">
<circle cx="1966.25" cy="958.62" r="5.15"/>
</g>
<g fill="#289366">
<circle cx="1969.05" cy="958.83" r="5.15"/>
</g>
<g fill="#249166">
<circle cx="1971.85" cy="958.97" r="5.15"/>
</g>
<g fill="#1c8d66">
<circle cx="1974.65" cy="958.99" r="5.15"/>
</g>
<g fill="#188b66">
<circle cx="1977.45" cy="958.85" r="5.15"/>
</g>
<g fill="#108766">
<circle cx="1980.25" cy="958.55" r="5.15"/>
</g>
<g fill="#0c8566">
<circle cx="1983.05" cy="958.14" r="5.15"/>
</g>
<g fill="#088366">
<circle cx="1985.85" cy="957.68" r="5.15"/>
</g>
<g fill="#048166">
<circle cx="1988.65" cy="957.21" r="5.15"/>
</g>
<g fill="#008066">
<circle cx="1991.45" cy="956.77" r="5.15"/>
<circle cx="1994.25" cy="956.29" r="5.15"/>
<circle cx="1997.05" cy="955.76" r="5.15"/>
<circle cx="1999.85" cy="955.19" r="5.15"/>
<circle cx="2002.65" cy="954.6" r="5.15"/>
<circle cx="2005.45" cy="953.99" r="5.15"/>
<circle cx="2008.25" cy="953.37" r="5.15"/>
<circle cx="2011.05" cy="952.76" r="5.15"/>
<circle cx="2013.85" cy="952.17" r="5.15"/>
<circle cx="2016.65" cy="951.61" r="5.15"/>
<circle cx="2019.45" cy="951.1" r="5.15"/>
<circle cx="2022.25" cy="950.61" r="5.15"/>
<circle cx="2025.05" cy="950.12" r="5.15"/>
<circle cx="2027.85" cy="949.63" r="5.15"/>
<circle cx="2030.65" cy="949.14" r="5.15"/>
<circle cx="2033.45" cy="948.66" r="5.15"/>
<circle cx="2036.24" cy="948.19" r="5.15"/>
<circle cx="2039.04" cy="947.73" r="5.15"/>
<circle cx="2041.84" cy="947.28" r="5.15"/>
<circle cx="2044.64" cy="946.85" r="5.15"/>
<circle cx="2047.44" cy="946.45" r="5.15"/>
<circle cx="2050.24" cy="946.07" r="5.15"/>
<circle cx="2053.04" cy="945.72" r="5.15"/>
<circle cx="2055.84" cy="945.4" r="5.15"/>
<circle cx="2058.64" cy="945.12" r="5.15"/>
<circle cx="2061.44" cy="944.88" r="5.15"/>
<circle cx="2064.24" cy="944.64" r="5.15"/>
<circle cx="2067.04" cy="944.42" r="5.15"/>
<circle cx="2069.84" cy="944.2" r="5.15"/>
<circle cx="2072.64" cy="943.99" r="5.15"/>
<circle cx="2075.44" cy="943.79" r="5.15"/>
<circle cx="2078.24" cy="943.6" r="5.15"/>
<circle cx="2081.04" cy="943.42" r="5.15"/>
<circle cx="2083.84" cy="943.24" r="5.15"/>
<circle cx="2086.64" cy="943.08" r="5.15"/>
<circle cx="2089.44" cy="942.92" r="5.15"/>
<circle cx="2092.24" cy="942.77" r="5.15"/>
<circle cx="2095.04" cy="942.63" r="5.15"/>
<circle cx="2097.84" cy="942.49" r="5.15"/>
<circle cx="2100.64" cy="942.37" r="5.15"/>
<circle cx="2103.44" cy="942.25" r="5.15"/>
<circle cx="2106.24" cy="942.14" r="5.15"/>
<circle cx="2109.04" cy="942.03" r="5.15"/>
<circle cx="2111.83" cy="941.94" r="5.15"/>
<circle cx="2114.63" cy="941.86" r="5.15"/>
<circle cx="2117.43" cy="941.79" r="5.15"/>
<circle cx="2120.23" cy="941.73" r="5.15"/>
<circle cx="2123.03" cy="941.68" r="5.15"/>
<circle cx="2125.83" cy="941.63" r="5.15"/>
<circle cx="2128.63" cy="941.58" r="5.15"/>
<circle cx="2131.43" cy="941.53" r="5.15"/>
<circle cx="2134.23" cy="941.48" r="5.15"/>
<circle cx="2137.03" cy="941.42" r="5.15"/>
<circle cx="2139.83" cy="941.36" r="5.15"/>
<circle cx="2142.63" cy="941.28" r="5.15"/>
<circle cx="2145.43" cy="941.19" r="5.15"/>
<circle cx="2148.23" cy="941.08" r="5.15"/>
<circle cx="2151.03" cy="940.94" r="5.15"/>
<circle cx="2153.83" cy="940.7" r="5.15"/>
<circle cx="2156.63" cy="940.34" r="5.15"/>
<circle cx="2159.43" cy="939.91" r="5.15"/>
<circle cx="2162.23" cy="939.42" r="5.15"/>
<circle cx="2165.03" cy="938.9" r="5.15"/>
<circle cx="2167.83" cy="938.38" r="5.15"/>
<circle cx="2170.63" cy="937.89" r="5.15"/>
<circle cx="2173.43" cy="937.39" r="5.15"/>
<circle cx="2176.23" cy="936.87" r="5.15"/>
<circle cx="2179.03" cy="936.32" r="5.15"/>
<circle cx="2181.83" cy="935.75" r="5.15"/>
<circle cx="2184.62" cy="935.17" r="5.15"/>
<circle cx="2187.42" cy="934.57" r="5.15"/>
<circle cx="2190.22" cy="933.95" r="5.15"/>
<circle cx="2193.02" cy="933.31" r="5.15"/>
<circle cx="2195.82" cy="932.65" r="5.15"/>
<circle cx="2198.62" cy="931.97" r="5.15"/>
<circle cx="2201.42" cy="931.27" r="5.15"/>
<circle cx="2204.22" cy="930.54" r="5.15"/>
<circle cx="2207.02" cy="929.8" r="5.15"/>
<circle cx="2209.82" cy="929.05" r="5.15"/>
<circle cx="2212.62" cy="928.25" r="5.15"/>
<circle cx="2215.42" cy="927.4" r="5.15"/>
<circle cx="2218.22" cy="926.51" r="5.15"/>
<circle cx="2221.02" cy="925.62" r="5.15"/>
<circle cx="2223.82" cy="924.74" r="5.15"/>
<circle cx="2226.62" cy="923.91" r="5.15"/>
<circle cx="2229.42" cy="923.15" r="5.15"/>
<circle cx="2232.22" cy="922.42" r="5.15"/>
<circle cx="2235.02" cy="921.7" r="5.15"/>
<circle cx="2237.82" cy="921.1" r="5.15"/>
<circle cx="2240.62" cy="920.74" r="5.15"/>
<circle cx="2243.42" cy="920.5" r="5.15"/>
<circle cx="2246.22" cy="920.31" r="5.15"/>
<circle cx="2249.02" cy="920.21" r="5.15"/>
<circle cx="2251.82" cy="920.26" r="5.15"/>
<circle cx="2254.62" cy="920.55" r="5.15"/>
<circle cx="2257.42" cy="921.01" r="5.15"/>
<circle cx="2260.21" cy="921.54" r="5.15"/>
<circle cx="2263.01" cy="922.37" r="5.15"/>
<circle cx="2265.81" cy="923.53" r="5.15"/>
<circle cx="2268.61" cy="924.85" r="5.15"/>
<circle cx="2271.41" cy="926.19" r="5.15"/>
<circle cx="2274.21" cy="927.69" r="5.15"/>
<circle cx="2277.01" cy="929.3" r="5.15"/>
<circle cx="2279.81" cy="930.9" r="5.15"/>
<circle cx="2282.61" cy="932.48" r="5.15"/>
<circle cx="2285.41" cy="934.09" r="5.15"/>
<circle cx="2288.21" cy="935.62" r="5.15"/>
<circle cx="2291.01" cy="936.97" r="5.15"/>
<circle cx="2293.81" cy="938.3" r="5.15"/>
<circle cx="2296.61" cy="939.49" r="5.15"/>
<circle cx="2299.41" cy="940.37" r="5.15"/>
<circle cx="2302.21" cy="940.93" r="5.15"/>
<circle cx="2305.01" cy="941.4" r="5.15"/>
<circle cx="2307.81" cy="941.71" r="5.15"/>
<circle cx="2310.61" cy="941.79" r="5.15"/>
<circle cx="2313.41" cy="941.44" r="5.15"/>
<circle cx="2316.21" cy="940.74" r="5.15"/>
<circle cx="2319.01" cy="939.84" r="5.15"/>
<circle cx="2321.81" cy="938.71" r="5.15"/>
<circle cx="2324.61" cy="936.95" r="5.15"/>
<circle cx="2327.41" cy="934.87" r="5.15"/>
<circle cx="2330.21" cy="932.86" r="5.15"/>
<circle cx="2333.01" cy="930.82" r="5.15"/>
<circle cx="2335.8" cy="928.72" r="5.15"/>
<circle cx="2338.6" cy="926.8" r="5.15"/>
<circle cx="2341.4" cy="925.26" r="5.15"/>
<circle cx="2344.2" cy="923.86" r="5.15"/>
<circle cx="2347" cy="922.67" r="5.15"/>
<circle cx="2349.8" cy="921.84" r="5.15"/>
<circle cx="2352.6" cy="921.3" r="5.15"/>
<circle cx="2355.4" cy="920.84" r="5.15"/>
<circle cx="2358.2" cy="920.56" r="5.15"/>
<circle cx="2361" cy="920.5" r="5.15"/>
<circle cx="2363.8" cy="920.52" r="5.15"/>
<circle cx="2366.6" cy="920.58" r="5.15"/>
<circle cx="2369.4" cy="920.73" r="5.15"/>
<circle cx="2372.2" cy="921" r="5.15"/>
</g>
<line x1="532.8" y1="697.5" x2="532.8" y2="1198" stroke="#000" stroke-width="4.1"/>
<line x1="1926.7" y1="697.5" x2="1926.7" y2="1198" stroke="#000" stroke-width="4.1"/>
<line x1="118.5" y1="696.9" x2="118.5" y2="1198.6" stroke="#2e2e2e" stroke-width="1.2"/>
<line x1="117.9" y1="1198" x2="2372.3" y2="1198" stroke="#2e2e2e" stroke-width="1.2"/>
<line x1="118.5" y1="697.5" x2="141" y2="697.5" stroke="#2e2e2e" stroke-width="1.1"/>
<text transform="translate(112 712.5) scale(0.97 1)" font-family="'Liberation Serif','Times New Roman',serif" font-size="41.67" text-anchor="end">100</text>
<line x1="118.5" y1="822.62" x2="141" y2="822.62" stroke="#2e2e2e" stroke-width="1.1"/>
<text transform="translate(112 837.62) scale(0.97 1)" font-family="'Liberation Serif','Times New Roman',serif" font-size="41.67" text-anchor="end">50</text>
<line x1="118.5" y1="947.75" x2="141" y2="947.75" stroke="#2e2e2e" stroke-width="1.1"/>
<text transform="translate(112 962.75) scale(0.97 1)" font-family="'Liberation Serif','Times New Roman',serif" font-size="41.67" text-anchor="end">0</text>
<line x1="118.5" y1="1072.88" x2="141" y2="1072.88" stroke="#2e2e2e" stroke-width="1.1"/>
<text transform="translate(112 1087.88) scale(0.97 1)" font-family="'Liberation Serif','Times New Roman',serif" font-size="41.67" text-anchor="end">-50</text>
<text transform="translate(112 1213) scale(0.97 1)" font-family="'Liberation Serif','Times New Roman',serif" font-size="41.67" text-anchor="end">-100</text>
<text transform="translate(118.7 1240.5) scale(0.97 1)" font-family="'Liberation Serif','Times New Roman',serif" font-size="41.67" text-anchor="middle">0</text>
<line x1="867.75" y1="1198" x2="867.75" y2="1175.5" stroke="#2e2e2e" stroke-width="1.1"/>
<text transform="translate(867.95 1240.5) scale(0.97 1)" font-family="'Liberation Serif','Times New Roman',serif" font-size="41.67" text-anchor="middle">5</text>
<line x1="1617" y1="1198" x2="1617" y2="1175.5" stroke="#2e2e2e" stroke-width="1.1"/>
<text transform="translate(1617.2 1240.5) scale(0.97 1)" font-family="'Liberation Serif','Times New Roman',serif" font-size="41.67" text-anchor="middle">10</text>
<line x1="2366.25" y1="1198" x2="2366.25" y2="1175.5" stroke="#2e2e2e" stroke-width="1.1"/>
<text transform="translate(2366.45 1240.5) scale(0.97 1)" font-family="'Liberation Serif','Times New Roman',serif" font-size="41.67" text-anchor="middle">15</text>
<text transform="translate(1244.6 1273.4) scale(0.978 1)" font-family="'Liberation Serif','Times New Roman',serif" font-size="31.25" text-anchor="middle">Time [s]</text>
<text transform="translate(23.4 948.6) rotate(-90) scale(0.968 1)" font-family="'Liberation Serif','Times New Roman',serif" font-size="31.25" text-anchor="middle">Rotation speed [deg/s]</text>
<text transform="translate(248 767) scale(0.978 1)" font-family="'Liberation Serif','Times New Roman',serif" font-size="31.25">No grasping</text>
<text transform="translate(1184.8 775.5) scale(0.978 1)" font-family="'Liberation Serif','Times New Roman',serif" font-size="31.25">Grasping</text>
<text transform="translate(2073.2 767) scale(0.978 1)" font-family="'Liberation Serif','Times New Roman',serif" font-size="31.25">No grasping</text>
<text transform="translate(8.9 651.5) scale(0.985 1)" font-family="'Liberation Sans',Arial,sans-serif" font-size="42.7" font-weight="bold">D</text>
<defs><linearGradient id="cb" x1="0" y1="1" x2="0" y2="0"><stop offset="0" stop-color="#008066"/><stop offset="1" stop-color="#ffff66"/></linearGradient></defs>
<rect x="2402.7" y="697.5" width="40.3" height="501" fill="url(#cb)" stroke="#2e2e2e" stroke-width="1.15"/>
<text transform="translate(2449.3 1213) scale(0.97 1)" font-family="'Liberation Serif','Times New Roman',serif" font-size="41.67">0</text>
<line x1="2402.7" y1="1097.9" x2="2407.7" y2="1097.9" stroke="#2e2e2e" stroke-width="1.1"/>
<line x1="2438" y1="1097.9" x2="2443" y2="1097.9" stroke="#2e2e2e" stroke-width="1.1"/>
<text transform="translate(2449.3 1112.9) scale(0.97 1)" font-family="'Liberation Serif','Times New Roman',serif" font-size="41.67">0.2</text>
<line x1="2402.7" y1="997.8" x2="2407.7" y2="997.8" stroke="#2e2e2e" stroke-width="1.1"/>
<line x1="2438" y1="997.8" x2="2443" y2="997.8" stroke="#2e2e2e" stroke-width="1.1"/>
<text transform="translate(2449.3 1012.8) scale(0.97 1)" font-family="'Liberation Serif','Times New Roman',serif" font-size="41.67">0.4</text>
<line x1="2402.7" y1="897.7" x2="2407.7" y2="897.7" stroke="#2e2e2e" stroke-width="1.1"/>
<line x1="2438" y1="897.7" x2="2443" y2="897.7" stroke="#2e2e2e" stroke-width="1.1"/>
<text transform="translate(2449.3 912.7) scale(0.97 1)" font-family="'Liberation Serif','Times New Roman',serif" font-size="41.67">0.6</text>
<line x1="2402.7" y1="797.6" x2="2407.7" y2="797.6" stroke="#2e2e2e" stroke-width="1.1"/>
<line x1="2438" y1="797.6" x2="2443" y2="797.6" stroke="#2e2e2e" stroke-width="1.1"/>
<text transform="translate(2449.3 812.6) scale(0.97 1)" font-family="'Liberation Serif','Times New Roman',serif" font-size="41.67">0.8</text>
<text transform="translate(2449.3 712.5) scale(0.97 1)" font-family="'Liberation Serif','Times New Roman',serif" font-size="41.67">1</text>
</svg></body></html>
